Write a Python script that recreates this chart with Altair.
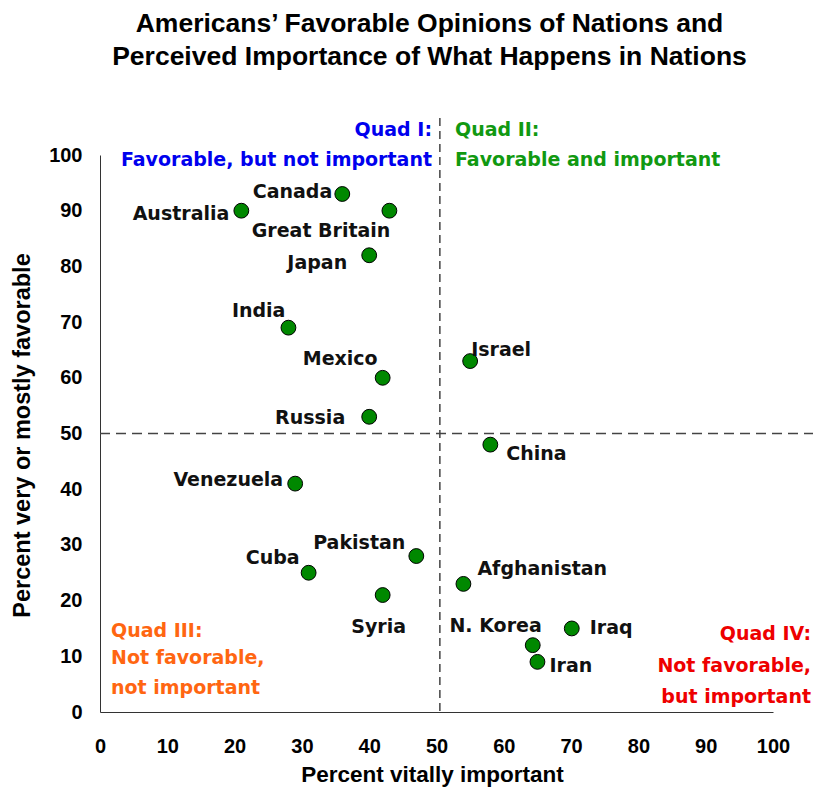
import altair as alt
import pandas as pd

countries = ["Canada", "Great Britain", "Australia", "Japan", "India", "Mexico",
             "Russia", "Israel", "China", "Venezuela", "Pakistan", "Cuba",
             "Syria", "Afghanistan", "N. Korea", "Iraq", "Iran"]
important = [36, 43, 21, 40, 28, 42, 40, 55, 58, 29, 47, 31, 42, 54, 64.3, 70.1, 65]
favorable = [93, 90, 90, 82, 69, 60, 53, 63, 48, 41, 28, 25, 21, 23, 12, 15, 9]

# label placement: (align, dx, dy) in pixels
label_pos = {
    "Canada": ("right", -10, -2),
    "Great Britain": ("right", 1, 20),
    "Australia": ("right", -12, 3),
    "Japan": ("right", -22, 8),
    "India": ("right", -3, -17),
    "Mexico": ("right", -5, -19),
    "Russia": ("right", -24, 1),
    "Israel": ("left", 1, -11),
    "China": ("left", 16, 9),
    "Venezuela": ("right", -12, -4),
    "Pakistan": ("right", -11, -13),
    "Cuba": ("right", -9, -15),
    "Syria": ("center", -4, 32),
    "Afghanistan": ("left", 14, -15),
    "N. Korea": ("right", 9, -19),
    "Iraq": ("left", 18, 0),
    "Iran": ("left", 12, 4),
}

df = pd.DataFrame({"country": countries, "important": important, "favorable": favorable})

W, H = 673, 557
FONT = "Liberation Sans"

xenc = alt.X("important:Q", scale=alt.Scale(domain=[0, 100]),
             axis=alt.Axis(values=list(range(0, 101, 10)), title="Percent vitally important",
                           grid=False, ticks=False, domain=True, domainColor="#333333",
                           labelFlush=False, labelOverlap=False,
                           labelFont=FONT, labelFontSize=20, labelFontWeight="bold",
                           labelPadding=24, labelColor="black",
                           titleFont=FONT, titleFontSize=22.5, titleFontWeight="bold",
                           titleBaseline="middle", titleY=62, titleX=332, titleColor="black"))
yenc = alt.Y("favorable:Q", scale=alt.Scale(domain=[0, 100]),
             axis=alt.Axis(values=list(range(0, 101, 10)), title="Percent very or mostly favorable",
                           grid=False, ticks=False, domain=True, domainColor="#333333",
                           labelFlush=False, labelOverlap=False,
                           labelFont=FONT, labelFontSize=20, labelFontWeight="bold",
                           labelPadding=18, labelColor="black",
                           titleFont=FONT, titleFontSize=23.5, titleFontWeight="bold",
                           titleBaseline="middle", titleX=-78, titleY=280, titleColor="black"))

base = alt.Chart(df)

vline = alt.Chart(pd.DataFrame({"v": [50.5]})).mark_rule(
    color="#444444", strokeWidth=1.5, strokeDash=[8, 5]
).encode(x=alt.X("v:Q", scale=alt.Scale(domain=[0, 100])), y=alt.value(-37), y2=alt.value(H))

hline = alt.Chart(pd.DataFrame({"h": [50]})).mark_rule(
    color="#444444", strokeWidth=1.5, strokeDash=[10, 6]
).encode(y=alt.Y("h:Q", scale=alt.Scale(domain=[0, 100])), x=alt.value(0), x2=alt.value(713))

points = base.mark_point(filled=True, size=220, fill="#008800", stroke="black",
                         strokeWidth=1, opacity=1).encode(x=xenc, y=yenc)

labels = []
for c in countries:
    a, dx, dy = label_pos[c]
    labels.append(
        base.transform_filter(alt.datum.country == c).mark_text(
            align=a, baseline="middle", dx=dx, dy=dy, font="DejaVu Sans",
            fontWeight="bold", fontSize=19, color="#111111"
        ).encode(x="important:Q", y="favorable:Q", text="country:N")
    )

def note(txt, x, y, align, color):
    return alt.Chart(pd.DataFrame({"t": [txt]})).mark_text(
        align=align, baseline="middle", font="DejaVu Sans", fontWeight="bold",
        fontSize=19, color=color
    ).encode(x=alt.value(x), y=alt.value(y), text="t:N")

blue, green, orange, red = "#0000EE", "#119911", "#FF6611", "#EE0000"
notes = [
    note("Quad I:", 332, -25, "right", blue),
    note("Favorable, but not important", 332, 5, "right", blue),
    note("Quad II:", 355, -25, "left", green),
    note("Favorable and important", 355, 5, "left", green),
    note("Quad III:", 11, 476, "left", orange),
    note("Not favorable,", 11, 503, "left", orange),
    note("not important", 11, 533, "left", orange),
    note("Quad IV:", 711, 479, "right", red),
    note("Not favorable,", 711, 511, "right", red),
    note("but important", 711, 542, "right", red),
]

chart = alt.layer(hline, vline, points, *labels, *notes).properties(
    width=W, height=H,
    background="white",
    title=alt.TitleParams(
        ["Americans\u2019 Favorable Opinions of Nations and",
         "Perceived Importance of What Happens in Nations"],
        font=FONT, fontSize=26.5, fontWeight="bold", color="black",
        lineHeight=33, anchor="middle", frame="group", offset=47, dx=-7
    ),
    autosize=alt.AutoSizeParams(type="none"),
    padding={"left": 92, "top": 147, "right": 40, "bottom": 76},
).configure_view(strokeWidth=0)

chart.save("out.html", embed_options={"renderer": "svg", "actions": False})
